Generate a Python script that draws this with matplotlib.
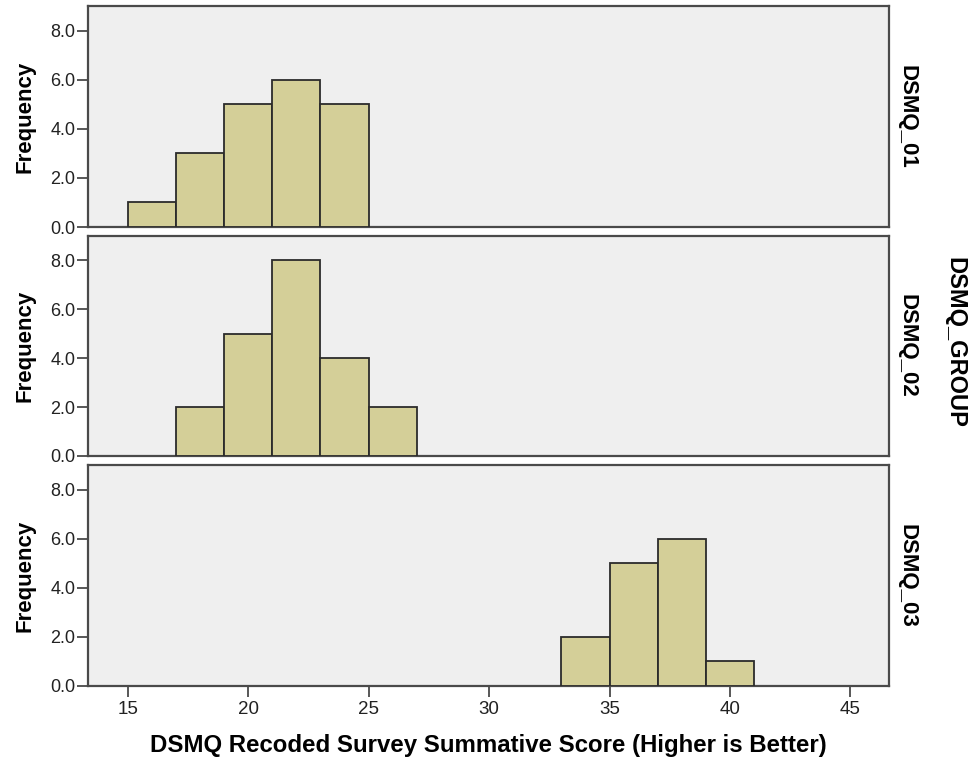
import matplotlib
matplotlib.use("Agg")
import matplotlib.pyplot as plt
from matplotlib import font_manager

names = {f.name for f in font_manager.fontManager.ttflist}
narrow = "Liberation Sans Narrow" if "Liberation Sans Narrow" in names else "Liberation Sans"
plt.rcParams['font.family'] = ['Liberation Sans', 'DejaVu Sans']

groups = ["DSMQ_01", "DSMQ_02", "DSMQ_03"]
bin_left = [15, 17, 19, 21, 23, 25, 27, 29, 31, 33, 35, 37, 39]
counts_01 = [1, 3, 5, 6, 5, 0, 0, 0, 0, 0, 0, 0, 0]
counts_02 = [0, 2, 5, 8, 4, 2, 0, 0, 0, 0, 0, 0, 0]
counts_03 = [0, 0, 0, 0, 0, 0, 0, 0, 0, 2, 5, 6, 1]
bin_width = 2
x_ticks = [15, 20, 25, 30, 35, 40, 45]
y_ticks = [0, 2, 4, 6, 8]
x_label = "DSMQ Recoded Survey Summative Score (Higher is Better)"
y_label = "Frequency"
panel_title = "DSMQ_GROUP"

W, H = 973, 761
fig = plt.figure(figsize=(W/100, H/100), dpi=100)

panels = [(6, 227), (236, 456), (465, 686)]
left, right = 88, 889
bar_color = "#d4cf98"
edge = "#2b2b2b"
spine_c = "#4a4a4a"

for i, (grp, cnts) in enumerate(zip(groups, [counts_01, counts_02, counts_03])):
    top, bot = panels[i]
    ax = fig.add_axes([left/W, 1-bot/H, (right-left)/W, (bot-top)/H])
    ax.set_facecolor("#efefef")
    xs = [b for b, c in zip(bin_left, cnts) if c > 0]
    hs = [c for c in cnts if c > 0]
    ax.bar(xs, hs, width=bin_width, align='edge', color=bar_color,
           edgecolor=edge, linewidth=1.3, zorder=3)
    ax.set_xlim(13.35, 46.6)
    ax.set_ylim(0, 9.0)
    ax.set_yticks(y_ticks)
    ax.set_yticklabels([f"{v:.1f}" for v in y_ticks], fontfamily=narrow,
                       fontsize=13, color="#222222")
    ax.tick_params(axis='y', length=8, width=1.3, color=spine_c, pad=1)
    for s in ax.spines.values():
        s.set_color(spine_c)
        s.set_linewidth(1.6)
    ax.set_ylabel(y_label, fontsize=16, fontweight='bold')
    ax.yaxis.set_label_coords(-0.066, 0.5)
    ax.text(1.023, 0.5, grp, transform=ax.transAxes, rotation=-90,
            ha='center', va='center', fontsize=16, fontweight='bold')
    ax.set_xticks(x_ticks)
    if i < 2:
        ax.tick_params(axis='x', length=0, labelbottom=False)
    else:
        ax.set_xticklabels([str(v) for v in x_ticks], fontfamily=narrow,
                           fontsize=13.5, color="#222222")
        ax.tick_params(axis='x', length=8, width=1.3, color=spine_c, pad=3)
        ax.set_xlabel(x_label, fontsize=17.3, fontweight='bold', labelpad=11)

fig.text(955/W, 1-342/H, panel_title, rotation=-90, ha='center', va='center',
         fontsize=17, fontweight='bold')

fig.savefig("out.png", dpi=100, facecolor="white")
